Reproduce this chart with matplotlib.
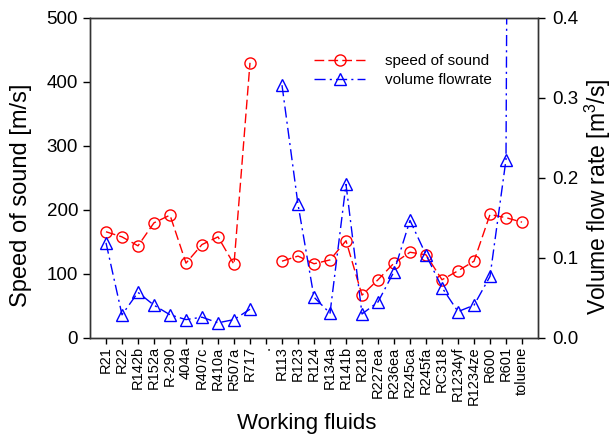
import numpy as np
import matplotlib
matplotlib.use("Agg")
import matplotlib.pyplot as plt

plt.rcParams['font.family'] = ['Liberation Sans', 'DejaVu Sans']
plt.rcParams['mathtext.default'] = 'regular'

# categories (empty slot between R717 and R113 is a separator)
fluids = ["R21", "R22", "R142b", "R152a", "R-290", "404a", "R407c", "R410a",
          "R507a", "R717", ".", "R113", "R123", "R124", "R134a", "R141b",
          "R218", "R227ea", "R236ea", "R245ca", "R245fa", "RC318", "R1234yf",
          "R1234ze", "R600", "R601", "toluene"]

# speed of sound [m/s]
speed = [166, 158, 144, 180, 192, 117, 146, 158, 115, 430, np.nan,
         120, 128, 116, 122, 152, 67, 91, 117, 134, 130, 91, 105, 120,
         193, 188, 181]

# volume flow rate [m3/s]
flow = [0.119, 0.029, 0.057, 0.041, 0.029, 0.023, 0.026, 0.019, 0.023,
        0.036, np.nan, 0.316, 0.167, 0.051, 0.031, 0.192, 0.030, 0.045,
        0.083, 0.147, 0.104, 0.063, 0.033, 0.041, 0.077, 0.223, 4.4]

x = np.arange(len(fluids))

fig = plt.figure(figsize=(6.12, 4.37), dpi=100)
ax = fig.add_axes([90 / 612, 1 - 338 / 437, 448 / 612, 320 / 437])
ax2 = ax.twinx()

l1, = ax.plot(x, speed, color="red", linestyle=(0, (7, 3)), linewidth=1,
              marker="o", markersize=8, markerfacecolor="none",
              markeredgecolor="red", markeredgewidth=1, label="speed of sound")
l2, = ax2.plot(x, flow, color="blue", linestyle=(0, (8, 3, 1.5, 3)), linewidth=1,
               marker="^", markersize=8, markerfacecolor="none",
               markeredgecolor="blue", markeredgewidth=1, label="volume flowrate")

ax.set_xlim(-1, len(fluids))
ax.set_ylim(0, 500)
ax2.set_ylim(0, 0.4)
ax.set_yticks([0, 100, 200, 300, 400, 500])
ax2.set_yticks([0.0, 0.1, 0.2, 0.3, 0.4])
ax2.set_yticklabels(["0.0", "0.1", "0.2", "0.3", "0.4"])
ax.set_xticks(x)
ax.set_xticklabels(fluids, rotation=90, fontsize=10.5)

ax.tick_params(axis='y', labelsize=13.5, direction='out', length=5, width=1)
ax.tick_params(axis='x', direction='out', length=4, width=1, pad=2)
ax2.tick_params(axis='y', labelsize=13.5, direction='out', length=5, width=1, pad=5)

for a in (ax, ax2):
    for s in a.spines.values():
        s.set_color("#333333")
        s.set_linewidth(1)

ax.set_xlabel("Working fluids", fontsize=16)
ax.set_ylabel("Speed of sound [m/s]", fontsize=17)
ax2.set_ylabel("Volume flow rate [m$^3$/s]", fontsize=16.5)
ax.xaxis.set_label_coords(0.484, -0.235)
ax.yaxis.set_label_coords(-0.13, 0.447)
ax2.yaxis.set_label_coords(1.1, 0.44)

ax.legend(handles=[l1, l2], loc="upper left", bbox_to_anchor=(0.47, 0.93),
          frameon=False, fontsize=11, handlelength=3.3, handletextpad=1.3,
          labelspacing=0.35)

fig.savefig("out.png", dpi=100)
